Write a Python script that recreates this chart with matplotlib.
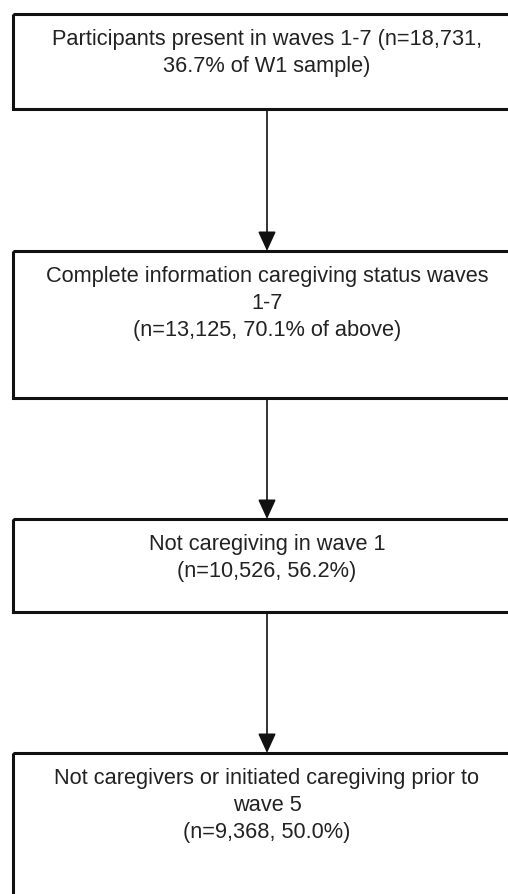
import matplotlib.pyplot as plt
from matplotlib.patches import Rectangle

# box texts (top to bottom)
box_labels = [
    "Participants present in waves 1-7 (n=18,731,\n36.7% of W1 sample)",
    "Complete information caregiving status waves\n1-7\n(n=13,125, 70.1% of above)",
    "Not caregiving in wave 1\n(n=10,526, 56.2%)",
    "Not caregivers or initiated caregiving prior to\nwave 5\n(n=9,368, 50.0%)",
]

# layout in pixels (y grows downward)
box_top = [14, 251, 519, 753]
box_bottom = [109, 398, 612, 905]
left, right = 13, 521
cx = 267

fig = plt.figure(figsize=(5.08, 8.94), dpi=100)
ax = fig.add_axes([0, 0, 1, 1])
ax.set_xlim(0, 508)
ax.set_ylim(894, 0)
ax.axis("off")

for i, label in enumerate(box_labels):
    ax.add_patch(Rectangle((left, box_top[i]), right - left, box_bottom[i] - box_top[i],
                           fill=False, edgecolor="#111111", linewidth=2.2))
    ax.text(cx, box_top[i] + 15, label, ha="center", va="top",
            fontsize=15.7, family="Liberation Sans", color="#222222",
            linespacing=1.37)

# arrows between boxes
for i in range(len(box_labels) - 1):
    ax.annotate("", xy=(cx, box_top[i + 1]), xytext=(cx, box_bottom[i]),
                arrowprops=dict(arrowstyle="-|>,head_length=1.2,head_width=0.55",
                                color="#111111", lw=1.2, shrinkA=0, shrinkB=0,
                                mutation_scale=10))

fig.savefig("out.png", dpi=100)
